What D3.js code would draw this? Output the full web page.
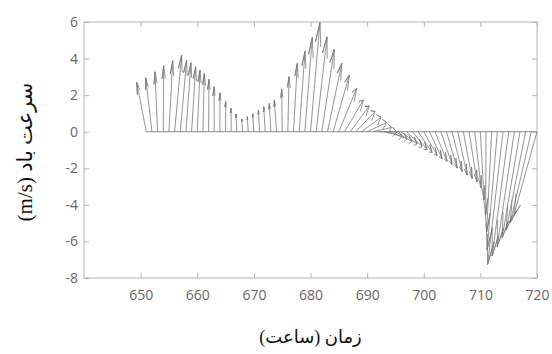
<!DOCTYPE html>
<html><head><meta charset="utf-8">
<script src="https://cdn.jsdelivr.net/npm/d3@7"></script>
<style>body{margin:0;background:#fff}svg{display:block}</style>
</head><body>
<svg id="chart" width="552" height="354"></svg>
<script>
// Time axis (hours) – one arrow per hour
const hours = d3.range(651, 721);
// Wind components (m/s): u = eastward, v = northward
const uValues = [-1.69,-1.10,-0.46,0.07,0.67,1.25,1.13,0.90,0.72,0.49,
  0.25,0.07,-0.04,0.02,0.02,-0.04,-0.16,-0.14,-0.16,-0.20,
  -0.20,-0.26,-0.27,-0.39,-0.08,0.21,0.67,1.04,1.32,1.68,
  1.92,2.21,2.53,2.86,3.16,3.34,3.36,3.39,3.46,3.43,
  3.32,3.20,3.16,3.06,2.93,2.83,2.70,2.58,2.47,2.35,
  2.24,2.12,2.00,1.89,1.77,1.66,1.54,1.41,1.13,0.65,
  -0.07,-0.90,-1.82,-2.72,-2.93,-3.04,-3.16,-3.45,-3.74,-4.13];
const vValues = [2.70,2.95,3.28,3.61,3.88,4.19,3.92,3.77,3.55,3.37,
  3.19,2.86,2.46,2.13,1.68,1.28,0.97,0.69,0.82,0.98,
  1.19,1.37,1.55,1.73,2.33,3.01,3.74,4.41,5.15,5.97,
  5.19,4.51,3.74,3.10,2.37,1.73,1.40,1.10,0.80,0.50,
  0.23,-0.02,-0.26,-0.40,-0.54,-0.67,-0.81,-0.97,-1.14,-1.30,
  -1.47,-1.63,-1.79,-1.99,-2.18,-2.37,-2.56,-2.75,-3.08,-3.73,
  -4.56,-5.49,-6.47,-7.26,-6.80,-6.31,-5.81,-5.38,-4.99,-4.61];
const xTicks = [650,660,670,680,690,700,710,720];
const yTicks = [-8,-6,-4,-2,0,2,4,6];
const xDomain = [640, 720];
const yDomain = [-8, 6];
const xTitle = "زمان (ساعت)";
const yTitle = "سرعت باد (m/s)";

const svg = d3.select("#chart");
const L = 84, R = 537, T = 22, B = 278;
const x = d3.scaleLinear().domain(xDomain).range([L, R]);
const y = d3.scaleLinear().domain(yDomain).range([B, T]);

svg.append("rect").attr("width",552).attr("height",354).attr("fill","#fff");

const axisColor = "#b4b4b4";
const labelColor = "#666";
const fmt = d => String(d);
function styleAxis(g, showLabels){
  g.select(".domain").remove();
  g.selectAll(".tick line").attr("stroke", axisColor);
  g.selectAll(".tick text").attr("fill", labelColor)
    .attr("font-family","'Open Sans', sans-serif").attr("font-size", 14);
  if(!showLabels) g.selectAll(".tick text").remove();
}
svg.append("g").attr("transform",`translate(0,${B})`)
  .call(d3.axisBottom(x).tickValues(xTicks).tickFormat(fmt).tickSizeInner(-5).tickSizeOuter(0).tickPadding(12))
  .call(g=>styleAxis(g,true));
svg.append("g").attr("transform",`translate(0,${T})`)
  .call(d3.axisTop(x).tickValues(xTicks).tickSizeInner(-5).tickSizeOuter(0))
  .call(g=>styleAxis(g,false));
svg.append("g").attr("transform",`translate(${L},0)`)
  .call(d3.axisLeft(y).tickValues(yTicks).tickFormat(fmt).tickSizeInner(-5).tickSizeOuter(0).tickPadding(6))
  .call(g=>styleAxis(g,true));
svg.append("g").attr("transform",`translate(${R},0)`)
  .call(d3.axisRight(y).tickValues(yTicks).tickSizeInner(-5).tickSizeOuter(0))
  .call(g=>styleAxis(g,false));
svg.append("rect").attr("x",L).attr("y",T).attr("width",R-L).attr("height",B-T)
  .attr("fill","none").attr("stroke",axisColor).attr("stroke-width",1);

// baseline
svg.append("line")
  .attr("x1", x(hours[0])).attr("x2", x(hours[hours.length-1]))
  .attr("y1", y(0)).attr("y2", y(0))
  .attr("stroke","#8c8c8c").attr("stroke-width",1);

// feather arrows (MATLAB style heads in data units)
const line = d3.line().x(d=>x(d[0])).y(d=>y(d[1]));
const arrows = hours.map((t,i)=>{
  const u = uValues[i], v = vValues[i];
  return [
    [t,0],[t+u,v],
    [t+0.8*u-0.08*v, 0.8*v+0.08*u],
    [t+u,v],
    [t+0.8*u+0.08*v, 0.8*v-0.08*u]
  ];
});
svg.append("g").selectAll("path").data(arrows).join("path")
  .attr("d", line).attr("fill","none")
  .attr("stroke","#7a7a7a").attr("stroke-width",0.8)
  .attr("stroke-linejoin","round");

// titles
svg.append("text").attr("x",(L+R)/2).attr("y",343)
  .attr("text-anchor","middle").attr("direction","rtl")
  .style("direction","rtl").style("unicode-bidi","embed")
  .attr("font-family","'Liberation Serif','DejaVu Sans',serif").attr("font-size",18)
  .attr("fill","#111").text(xTitle);
svg.append("text").attr("transform","translate(32,152) rotate(-90)")
  .attr("text-anchor","middle").attr("direction","rtl")
  .style("direction","rtl").style("unicode-bidi","embed")
  .attr("font-family","'Liberation Serif','DejaVu Sans',serif").attr("font-size",21)
  .attr("fill","#111").text(yTitle);
</script>
</body></html>
